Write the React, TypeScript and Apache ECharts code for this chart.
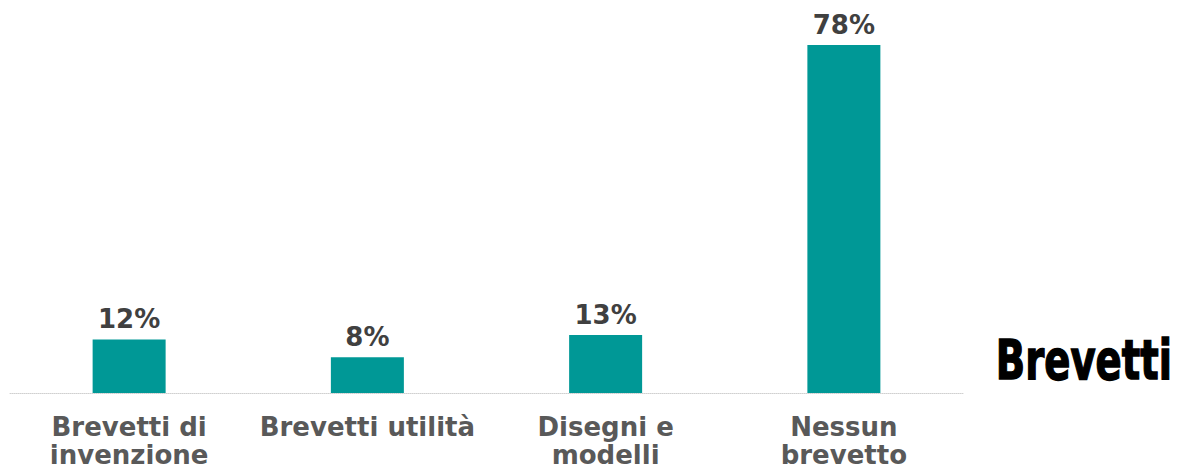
import React, { useEffect, useRef } from "react";
import * as echarts from "echarts";

const categories = ["Brevetti di\ninvenzione", "Brevetti utilità", "Disegni e\nmodelli", "Nessun\nbrevetto"];
const values = [12, 8, 13, 78];
const title = "Brevetti";

export default function App() {
  const ref = useRef<HTMLDivElement>(null);
  useEffect(() => {
    const chart = echarts.init(ref.current!, null, { renderer: "svg" });
    chart.setOption({
      animation: false,
      backgroundColor: "#ffffff",
      graphic: [
        {
          type: "text",
          x: 1172,
          y: 331,
          scaleX: 0.69,
          style: {
            text: title,
            fill: "#000000",
            stroke: "#000000",
            lineWidth: 1.5,
            fontFamily: "'DejaVu Sans', sans-serif",
            fontWeight: "bold",
            fontSize: 56,
            textAlign: "right",
            textVerticalAlign: "top",
          },
        },
      ],
      grid: { left: 10, right: 214, top: 45, bottom: 77, outerBoundsMode: "none", containLabel: false },
      xAxis: {
        type: "category",
        data: categories,
        axisLine: { show: true, lineStyle: { color: "#d0d0d0", type: "dotted", width: 1 } },
        axisTick: { show: false },
        axisLabel: {
          interval: 0,
          margin: 20,
          color: "#595959",
          fontFamily: "'DejaVu Sans', Verdana, sans-serif",
          fontWeight: "bold",
          fontSize: 26,
          lineHeight: 28,
        },
      },
      yAxis: {
        type: "value",
        min: 0,
        max: 78,
        show: false,
        splitLine: { show: false },
      },
      series: [
        {
          type: "bar",
          data: values,
          barWidth: 73,
          itemStyle: { color: "#009896" },
          label: {
            show: true,
            position: "top",
            distance: 7,
            formatter: "{c}%",
            color: "#404040",
            fontFamily: "'DejaVu Sans', Verdana, sans-serif",
            fontWeight: "bold",
            fontSize: 26,
          },
        },
      ],
    });
    return () => chart.dispose();
  }, []);
  return <div ref={ref} style={{ position: "fixed", left: 0, top: 0, width: 1177, height: 470 }} />;
}
